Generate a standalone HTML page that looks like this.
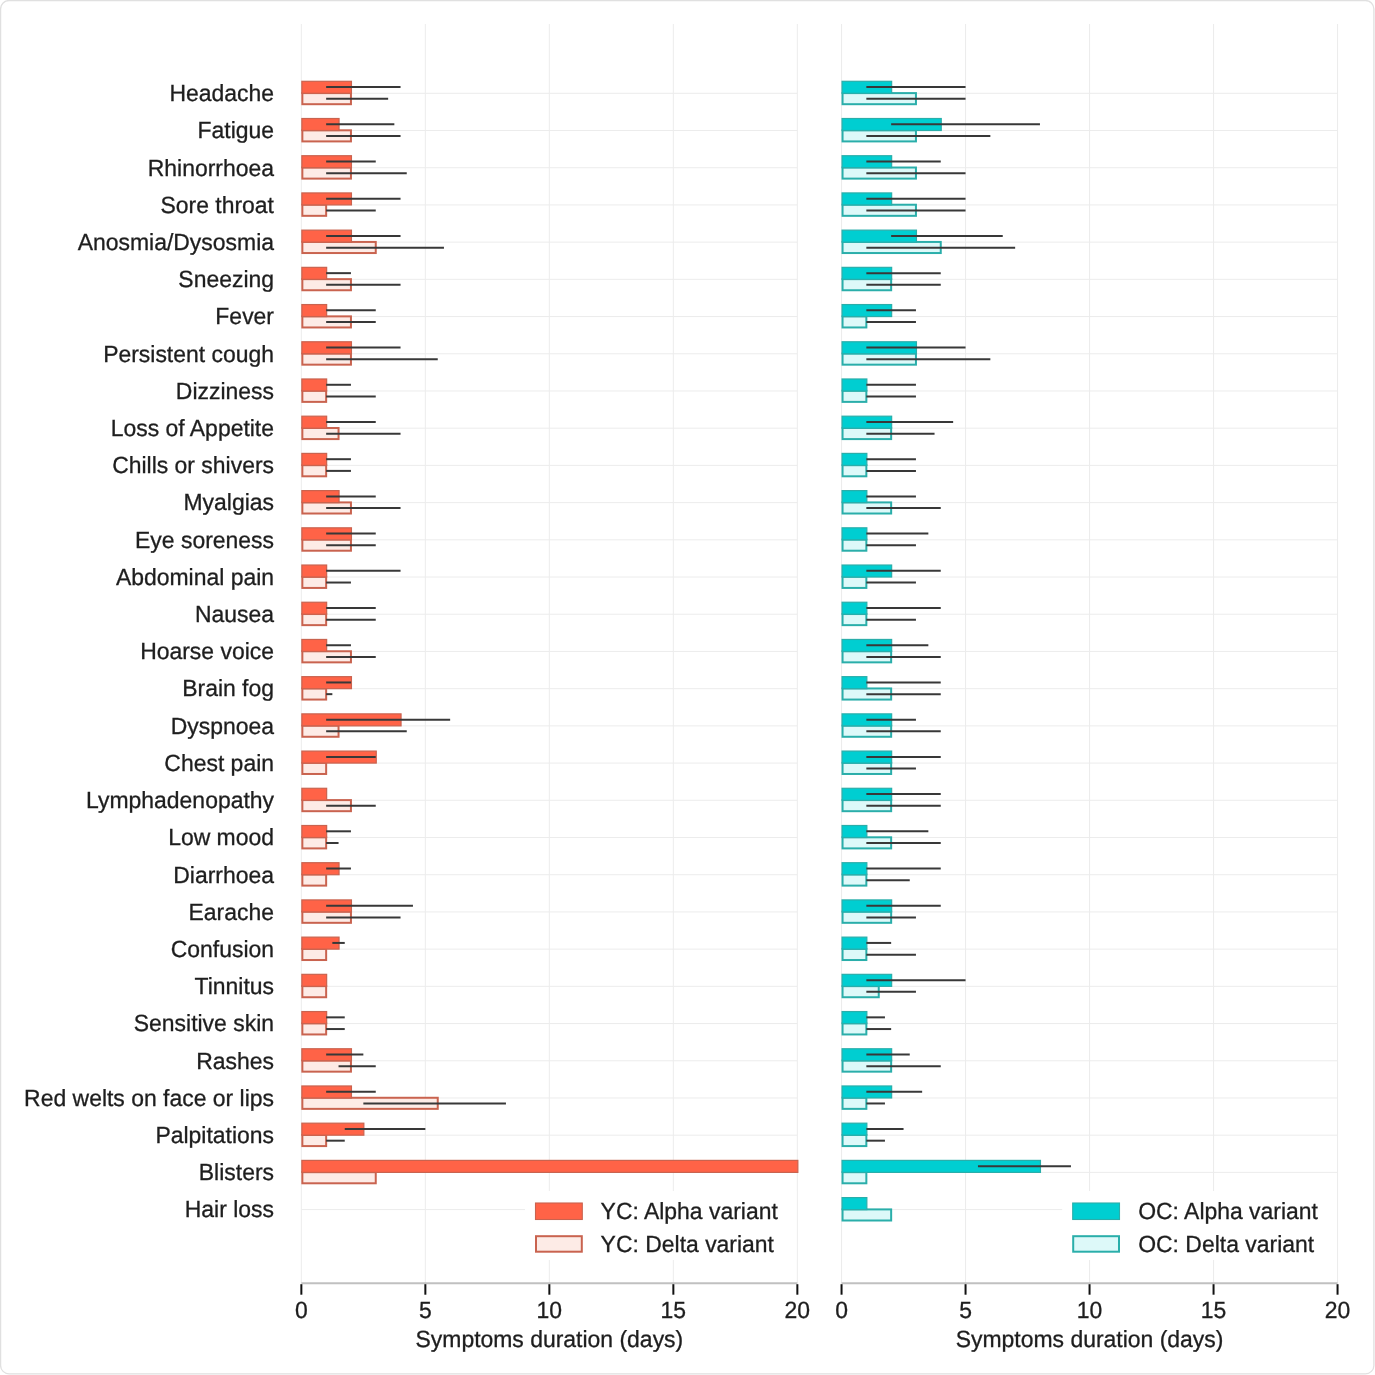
<!DOCTYPE html><html><head><meta charset="utf-8"><style>html,body{margin:0;padding:0;background:#fff;width:1375px;height:1375px;overflow:hidden}svg{display:block}text{font-family:"Liberation Sans",sans-serif;fill:#1e1e1e;stroke:#1e1e1e;stroke-width:0.3px}svg{will-change:transform}text{text-rendering:geometricPrecision}</style></head><body>
<svg width="1375" height="1375" viewBox="0 0 1375 1375">
<rect x="0" y="0" width="1375" height="1375" fill="#fff"/>
<rect x="0.6" y="0.5" width="1373.3" height="1373.4" rx="8.5" ry="8.5" fill="none" stroke="#e0e0e0" stroke-width="1.3"/>
<line x1="301.35" y1="93.30" x2="797.35" y2="93.30" stroke="#ececec" stroke-width="1"/>
<line x1="301.35" y1="130.51" x2="797.35" y2="130.51" stroke="#ececec" stroke-width="1"/>
<line x1="301.35" y1="167.72" x2="797.35" y2="167.72" stroke="#ececec" stroke-width="1"/>
<line x1="301.35" y1="204.93" x2="797.35" y2="204.93" stroke="#ececec" stroke-width="1"/>
<line x1="301.35" y1="242.14" x2="797.35" y2="242.14" stroke="#ececec" stroke-width="1"/>
<line x1="301.35" y1="279.35" x2="797.35" y2="279.35" stroke="#ececec" stroke-width="1"/>
<line x1="301.35" y1="316.56" x2="797.35" y2="316.56" stroke="#ececec" stroke-width="1"/>
<line x1="301.35" y1="353.77" x2="797.35" y2="353.77" stroke="#ececec" stroke-width="1"/>
<line x1="301.35" y1="390.98" x2="797.35" y2="390.98" stroke="#ececec" stroke-width="1"/>
<line x1="301.35" y1="428.19" x2="797.35" y2="428.19" stroke="#ececec" stroke-width="1"/>
<line x1="301.35" y1="465.40" x2="797.35" y2="465.40" stroke="#ececec" stroke-width="1"/>
<line x1="301.35" y1="502.61" x2="797.35" y2="502.61" stroke="#ececec" stroke-width="1"/>
<line x1="301.35" y1="539.82" x2="797.35" y2="539.82" stroke="#ececec" stroke-width="1"/>
<line x1="301.35" y1="577.03" x2="797.35" y2="577.03" stroke="#ececec" stroke-width="1"/>
<line x1="301.35" y1="614.24" x2="797.35" y2="614.24" stroke="#ececec" stroke-width="1"/>
<line x1="301.35" y1="651.45" x2="797.35" y2="651.45" stroke="#ececec" stroke-width="1"/>
<line x1="301.35" y1="688.66" x2="797.35" y2="688.66" stroke="#ececec" stroke-width="1"/>
<line x1="301.35" y1="725.87" x2="797.35" y2="725.87" stroke="#ececec" stroke-width="1"/>
<line x1="301.35" y1="763.08" x2="797.35" y2="763.08" stroke="#ececec" stroke-width="1"/>
<line x1="301.35" y1="800.29" x2="797.35" y2="800.29" stroke="#ececec" stroke-width="1"/>
<line x1="301.35" y1="837.50" x2="797.35" y2="837.50" stroke="#ececec" stroke-width="1"/>
<line x1="301.35" y1="874.71" x2="797.35" y2="874.71" stroke="#ececec" stroke-width="1"/>
<line x1="301.35" y1="911.92" x2="797.35" y2="911.92" stroke="#ececec" stroke-width="1"/>
<line x1="301.35" y1="949.13" x2="797.35" y2="949.13" stroke="#ececec" stroke-width="1"/>
<line x1="301.35" y1="986.34" x2="797.35" y2="986.34" stroke="#ececec" stroke-width="1"/>
<line x1="301.35" y1="1023.55" x2="797.35" y2="1023.55" stroke="#ececec" stroke-width="1"/>
<line x1="301.35" y1="1060.76" x2="797.35" y2="1060.76" stroke="#ececec" stroke-width="1"/>
<line x1="301.35" y1="1097.97" x2="797.35" y2="1097.97" stroke="#ececec" stroke-width="1"/>
<line x1="301.35" y1="1135.18" x2="797.35" y2="1135.18" stroke="#ececec" stroke-width="1"/>
<line x1="301.35" y1="1172.39" x2="797.35" y2="1172.39" stroke="#ececec" stroke-width="1"/>
<line x1="301.35" y1="1209.60" x2="525.00" y2="1209.60" stroke="#ececec" stroke-width="1"/>
<line x1="301.35" y1="24" x2="301.35" y2="1283.20" stroke="#ececec" stroke-width="1"/>
<line x1="425.35" y1="24" x2="425.35" y2="1283.20" stroke="#ececec" stroke-width="1"/>
<line x1="549.35" y1="24" x2="549.35" y2="1283.20" stroke="#ececec" stroke-width="1"/>
<line x1="673.35" y1="24" x2="673.35" y2="1283.20" stroke="#ececec" stroke-width="1"/>
<line x1="797.35" y1="24" x2="797.35" y2="1283.20" stroke="#ececec" stroke-width="1"/>
<rect x="302.35" y="93.10" width="48.60" height="11.1" fill="#fdebe6" stroke="#c9634f" stroke-width="2"/>
<rect x="301.85" y="81.30" width="49.60" height="12.0" fill="#ff6347" stroke="#c9634f" stroke-width="1.2"/>
<line x1="326.15" y1="87.10" x2="400.55" y2="87.10" stroke="#383838" stroke-width="2"/>
<line x1="326.15" y1="98.80" x2="388.15" y2="98.80" stroke="#383838" stroke-width="2"/>
<rect x="302.35" y="130.31" width="48.60" height="11.1" fill="#fdebe6" stroke="#c9634f" stroke-width="2"/>
<rect x="301.85" y="118.51" width="37.20" height="12.0" fill="#ff6347" stroke="#c9634f" stroke-width="1.2"/>
<line x1="326.15" y1="124.31" x2="394.35" y2="124.31" stroke="#383838" stroke-width="2"/>
<line x1="326.15" y1="136.01" x2="400.55" y2="136.01" stroke="#383838" stroke-width="2"/>
<rect x="302.35" y="167.52" width="48.60" height="11.1" fill="#fdebe6" stroke="#c9634f" stroke-width="2"/>
<rect x="301.85" y="155.72" width="49.60" height="12.0" fill="#ff6347" stroke="#c9634f" stroke-width="1.2"/>
<line x1="326.15" y1="161.52" x2="375.75" y2="161.52" stroke="#383838" stroke-width="2"/>
<line x1="326.15" y1="173.22" x2="406.75" y2="173.22" stroke="#383838" stroke-width="2"/>
<rect x="302.35" y="204.73" width="23.80" height="11.1" fill="#fdebe6" stroke="#c9634f" stroke-width="2"/>
<rect x="301.85" y="192.93" width="49.60" height="12.0" fill="#ff6347" stroke="#c9634f" stroke-width="1.2"/>
<line x1="326.15" y1="198.73" x2="400.55" y2="198.73" stroke="#383838" stroke-width="2"/>
<line x1="326.15" y1="210.43" x2="375.75" y2="210.43" stroke="#383838" stroke-width="2"/>
<rect x="302.35" y="241.94" width="73.40" height="11.1" fill="#fdebe6" stroke="#c9634f" stroke-width="2"/>
<rect x="301.85" y="230.14" width="49.60" height="12.0" fill="#ff6347" stroke="#c9634f" stroke-width="1.2"/>
<line x1="326.15" y1="235.94" x2="400.55" y2="235.94" stroke="#383838" stroke-width="2"/>
<line x1="326.15" y1="247.64" x2="443.95" y2="247.64" stroke="#383838" stroke-width="2"/>
<rect x="302.35" y="279.15" width="48.60" height="11.1" fill="#fdebe6" stroke="#c9634f" stroke-width="2"/>
<rect x="301.85" y="267.35" width="24.80" height="12.0" fill="#ff6347" stroke="#c9634f" stroke-width="1.2"/>
<line x1="326.15" y1="273.15" x2="350.95" y2="273.15" stroke="#383838" stroke-width="2"/>
<line x1="326.15" y1="284.85" x2="400.55" y2="284.85" stroke="#383838" stroke-width="2"/>
<rect x="302.35" y="316.36" width="48.60" height="11.1" fill="#fdebe6" stroke="#c9634f" stroke-width="2"/>
<rect x="301.85" y="304.56" width="24.80" height="12.0" fill="#ff6347" stroke="#c9634f" stroke-width="1.2"/>
<line x1="326.15" y1="310.36" x2="375.75" y2="310.36" stroke="#383838" stroke-width="2"/>
<line x1="326.15" y1="322.06" x2="375.75" y2="322.06" stroke="#383838" stroke-width="2"/>
<rect x="302.35" y="353.57" width="48.60" height="11.1" fill="#fdebe6" stroke="#c9634f" stroke-width="2"/>
<rect x="301.85" y="341.77" width="49.60" height="12.0" fill="#ff6347" stroke="#c9634f" stroke-width="1.2"/>
<line x1="326.15" y1="347.57" x2="400.55" y2="347.57" stroke="#383838" stroke-width="2"/>
<line x1="326.15" y1="359.27" x2="437.75" y2="359.27" stroke="#383838" stroke-width="2"/>
<rect x="302.35" y="390.78" width="23.80" height="11.1" fill="#fdebe6" stroke="#c9634f" stroke-width="2"/>
<rect x="301.85" y="378.98" width="24.80" height="12.0" fill="#ff6347" stroke="#c9634f" stroke-width="1.2"/>
<line x1="326.15" y1="384.78" x2="350.95" y2="384.78" stroke="#383838" stroke-width="2"/>
<line x1="326.15" y1="396.48" x2="375.75" y2="396.48" stroke="#383838" stroke-width="2"/>
<rect x="302.35" y="427.99" width="36.20" height="11.1" fill="#fdebe6" stroke="#c9634f" stroke-width="2"/>
<rect x="301.85" y="416.19" width="24.80" height="12.0" fill="#ff6347" stroke="#c9634f" stroke-width="1.2"/>
<line x1="326.15" y1="421.99" x2="375.75" y2="421.99" stroke="#383838" stroke-width="2"/>
<line x1="326.15" y1="433.69" x2="400.55" y2="433.69" stroke="#383838" stroke-width="2"/>
<rect x="302.35" y="465.20" width="23.80" height="11.1" fill="#fdebe6" stroke="#c9634f" stroke-width="2"/>
<rect x="301.85" y="453.40" width="24.80" height="12.0" fill="#ff6347" stroke="#c9634f" stroke-width="1.2"/>
<line x1="326.15" y1="459.20" x2="350.95" y2="459.20" stroke="#383838" stroke-width="2"/>
<line x1="326.15" y1="470.90" x2="350.95" y2="470.90" stroke="#383838" stroke-width="2"/>
<rect x="302.35" y="502.41" width="48.60" height="11.1" fill="#fdebe6" stroke="#c9634f" stroke-width="2"/>
<rect x="301.85" y="490.61" width="37.20" height="12.0" fill="#ff6347" stroke="#c9634f" stroke-width="1.2"/>
<line x1="326.15" y1="496.41" x2="375.75" y2="496.41" stroke="#383838" stroke-width="2"/>
<line x1="326.15" y1="508.11" x2="400.55" y2="508.11" stroke="#383838" stroke-width="2"/>
<rect x="302.35" y="539.62" width="48.60" height="11.1" fill="#fdebe6" stroke="#c9634f" stroke-width="2"/>
<rect x="301.85" y="527.82" width="49.60" height="12.0" fill="#ff6347" stroke="#c9634f" stroke-width="1.2"/>
<line x1="326.15" y1="533.62" x2="375.75" y2="533.62" stroke="#383838" stroke-width="2"/>
<line x1="326.15" y1="545.32" x2="375.75" y2="545.32" stroke="#383838" stroke-width="2"/>
<rect x="302.35" y="576.83" width="23.80" height="11.1" fill="#fdebe6" stroke="#c9634f" stroke-width="2"/>
<rect x="301.85" y="565.03" width="24.80" height="12.0" fill="#ff6347" stroke="#c9634f" stroke-width="1.2"/>
<line x1="326.15" y1="570.83" x2="400.55" y2="570.83" stroke="#383838" stroke-width="2"/>
<line x1="326.15" y1="582.53" x2="350.95" y2="582.53" stroke="#383838" stroke-width="2"/>
<rect x="302.35" y="614.04" width="23.80" height="11.1" fill="#fdebe6" stroke="#c9634f" stroke-width="2"/>
<rect x="301.85" y="602.24" width="24.80" height="12.0" fill="#ff6347" stroke="#c9634f" stroke-width="1.2"/>
<line x1="326.15" y1="608.04" x2="375.75" y2="608.04" stroke="#383838" stroke-width="2"/>
<line x1="326.15" y1="619.74" x2="375.75" y2="619.74" stroke="#383838" stroke-width="2"/>
<rect x="302.35" y="651.25" width="48.60" height="11.1" fill="#fdebe6" stroke="#c9634f" stroke-width="2"/>
<rect x="301.85" y="639.45" width="24.80" height="12.0" fill="#ff6347" stroke="#c9634f" stroke-width="1.2"/>
<line x1="326.15" y1="645.25" x2="350.95" y2="645.25" stroke="#383838" stroke-width="2"/>
<line x1="326.15" y1="656.95" x2="375.75" y2="656.95" stroke="#383838" stroke-width="2"/>
<rect x="302.35" y="688.46" width="23.80" height="11.1" fill="#fdebe6" stroke="#c9634f" stroke-width="2"/>
<rect x="301.85" y="676.66" width="49.60" height="12.0" fill="#ff6347" stroke="#c9634f" stroke-width="1.2"/>
<line x1="326.15" y1="682.46" x2="350.95" y2="682.46" stroke="#383838" stroke-width="2"/>
<line x1="326.15" y1="694.16" x2="332.35" y2="694.16" stroke="#383838" stroke-width="2"/>
<rect x="302.35" y="725.67" width="36.20" height="11.1" fill="#fdebe6" stroke="#c9634f" stroke-width="2"/>
<rect x="301.85" y="713.87" width="99.20" height="12.0" fill="#ff6347" stroke="#c9634f" stroke-width="1.2"/>
<line x1="326.15" y1="719.67" x2="450.15" y2="719.67" stroke="#383838" stroke-width="2"/>
<line x1="326.15" y1="731.37" x2="406.75" y2="731.37" stroke="#383838" stroke-width="2"/>
<rect x="302.35" y="762.88" width="23.80" height="11.1" fill="#fdebe6" stroke="#c9634f" stroke-width="2"/>
<rect x="301.85" y="751.08" width="74.40" height="12.0" fill="#ff6347" stroke="#c9634f" stroke-width="1.2"/>
<line x1="326.15" y1="756.88" x2="375.75" y2="756.88" stroke="#383838" stroke-width="2"/>
<rect x="302.35" y="800.09" width="48.60" height="11.1" fill="#fdebe6" stroke="#c9634f" stroke-width="2"/>
<rect x="301.85" y="788.29" width="24.80" height="12.0" fill="#ff6347" stroke="#c9634f" stroke-width="1.2"/>
<line x1="326.15" y1="805.79" x2="375.75" y2="805.79" stroke="#383838" stroke-width="2"/>
<rect x="302.35" y="837.30" width="23.80" height="11.1" fill="#fdebe6" stroke="#c9634f" stroke-width="2"/>
<rect x="301.85" y="825.50" width="24.80" height="12.0" fill="#ff6347" stroke="#c9634f" stroke-width="1.2"/>
<line x1="326.15" y1="831.30" x2="350.95" y2="831.30" stroke="#383838" stroke-width="2"/>
<line x1="326.15" y1="843.00" x2="338.55" y2="843.00" stroke="#383838" stroke-width="2"/>
<rect x="302.35" y="874.51" width="23.80" height="11.1" fill="#fdebe6" stroke="#c9634f" stroke-width="2"/>
<rect x="301.85" y="862.71" width="37.20" height="12.0" fill="#ff6347" stroke="#c9634f" stroke-width="1.2"/>
<line x1="326.15" y1="868.51" x2="350.95" y2="868.51" stroke="#383838" stroke-width="2"/>
<rect x="302.35" y="911.72" width="48.60" height="11.1" fill="#fdebe6" stroke="#c9634f" stroke-width="2"/>
<rect x="301.85" y="899.92" width="49.60" height="12.0" fill="#ff6347" stroke="#c9634f" stroke-width="1.2"/>
<line x1="326.15" y1="905.72" x2="412.95" y2="905.72" stroke="#383838" stroke-width="2"/>
<line x1="326.15" y1="917.42" x2="400.55" y2="917.42" stroke="#383838" stroke-width="2"/>
<rect x="302.35" y="948.93" width="23.80" height="11.1" fill="#fdebe6" stroke="#c9634f" stroke-width="2"/>
<rect x="301.85" y="937.13" width="37.20" height="12.0" fill="#ff6347" stroke="#c9634f" stroke-width="1.2"/>
<line x1="332.35" y1="942.93" x2="344.75" y2="942.93" stroke="#383838" stroke-width="2"/>
<rect x="302.35" y="986.14" width="23.80" height="11.1" fill="#fdebe6" stroke="#c9634f" stroke-width="2"/>
<rect x="301.85" y="974.34" width="24.80" height="12.0" fill="#ff6347" stroke="#c9634f" stroke-width="1.2"/>
<rect x="302.35" y="1023.35" width="23.80" height="11.1" fill="#fdebe6" stroke="#c9634f" stroke-width="2"/>
<rect x="301.85" y="1011.55" width="24.80" height="12.0" fill="#ff6347" stroke="#c9634f" stroke-width="1.2"/>
<line x1="326.15" y1="1017.35" x2="344.75" y2="1017.35" stroke="#383838" stroke-width="2"/>
<line x1="326.15" y1="1029.05" x2="344.75" y2="1029.05" stroke="#383838" stroke-width="2"/>
<rect x="302.35" y="1060.56" width="48.60" height="11.1" fill="#fdebe6" stroke="#c9634f" stroke-width="2"/>
<rect x="301.85" y="1048.76" width="49.60" height="12.0" fill="#ff6347" stroke="#c9634f" stroke-width="1.2"/>
<line x1="326.15" y1="1054.56" x2="363.35" y2="1054.56" stroke="#383838" stroke-width="2"/>
<line x1="338.55" y1="1066.26" x2="375.75" y2="1066.26" stroke="#383838" stroke-width="2"/>
<rect x="302.35" y="1097.77" width="135.40" height="11.1" fill="#fdebe6" stroke="#c9634f" stroke-width="2"/>
<rect x="301.85" y="1085.97" width="49.60" height="12.0" fill="#ff6347" stroke="#c9634f" stroke-width="1.2"/>
<line x1="326.15" y1="1091.77" x2="375.75" y2="1091.77" stroke="#383838" stroke-width="2"/>
<line x1="363.35" y1="1103.47" x2="505.95" y2="1103.47" stroke="#383838" stroke-width="2"/>
<rect x="302.35" y="1134.98" width="23.80" height="11.1" fill="#fdebe6" stroke="#c9634f" stroke-width="2"/>
<rect x="301.85" y="1123.18" width="62.00" height="12.0" fill="#ff6347" stroke="#c9634f" stroke-width="1.2"/>
<line x1="344.75" y1="1128.98" x2="425.35" y2="1128.98" stroke="#383838" stroke-width="2"/>
<line x1="326.15" y1="1140.68" x2="344.75" y2="1140.68" stroke="#383838" stroke-width="2"/>
<rect x="302.35" y="1172.19" width="73.40" height="11.1" fill="#fdebe6" stroke="#c9634f" stroke-width="2"/>
<rect x="301.85" y="1160.39" width="496.00" height="12.0" fill="#ff6347" stroke="#c9634f" stroke-width="1.2"/>
<line x1="301.35" y1="1283.20" x2="797.35" y2="1283.20" stroke="#c0c0c0" stroke-width="2"/>
<line x1="301.35" y1="1284.20" x2="301.35" y2="1294.70" stroke="#111" stroke-width="2"/>
<text transform="translate(301.35 1318.00) scale(1 1.02)" font-size="22.95" text-anchor="middle">0</text>
<line x1="425.35" y1="1284.20" x2="425.35" y2="1294.70" stroke="#111" stroke-width="2"/>
<text transform="translate(425.35 1318.00) scale(1 1.02)" font-size="22.95" text-anchor="middle">5</text>
<line x1="549.35" y1="1284.20" x2="549.35" y2="1294.70" stroke="#111" stroke-width="2"/>
<text transform="translate(549.35 1318.00) scale(1 1.02)" font-size="22.95" text-anchor="middle">10</text>
<line x1="673.35" y1="1284.20" x2="673.35" y2="1294.70" stroke="#111" stroke-width="2"/>
<text transform="translate(673.35 1318.00) scale(1 1.02)" font-size="22.95" text-anchor="middle">15</text>
<line x1="797.35" y1="1284.20" x2="797.35" y2="1294.70" stroke="#111" stroke-width="2"/>
<text transform="translate(797.35 1318.00) scale(1 1.02)" font-size="22.95" text-anchor="middle">20</text>
<text transform="translate(549.35 1346.90) scale(1 1.02)" font-size="22.95" text-anchor="middle">Symptoms duration (days)</text>
<rect x="525.00" y="1191" width="271.35" height="69" fill="#fff"/>
<rect x="535.50" y="1203" width="46.8" height="16.5" fill="#ff6347" stroke="#c9634f" stroke-width="1.1"/>
<rect x="536.00" y="1236.2" width="45.8" height="15.5" fill="#fdebe6" stroke="#c9634f" stroke-width="2"/>
<text transform="translate(600.60 1219.20) scale(1 1.02)" font-size="22.95">YC: Alpha variant</text>
<text transform="translate(600.60 1252.20) scale(1 1.02)" font-size="22.95">YC: Delta variant</text>
<line x1="841.55" y1="93.30" x2="1337.55" y2="93.30" stroke="#ececec" stroke-width="1"/>
<line x1="841.55" y1="130.51" x2="1337.55" y2="130.51" stroke="#ececec" stroke-width="1"/>
<line x1="841.55" y1="167.72" x2="1337.55" y2="167.72" stroke="#ececec" stroke-width="1"/>
<line x1="841.55" y1="204.93" x2="1337.55" y2="204.93" stroke="#ececec" stroke-width="1"/>
<line x1="841.55" y1="242.14" x2="1337.55" y2="242.14" stroke="#ececec" stroke-width="1"/>
<line x1="841.55" y1="279.35" x2="1337.55" y2="279.35" stroke="#ececec" stroke-width="1"/>
<line x1="841.55" y1="316.56" x2="1337.55" y2="316.56" stroke="#ececec" stroke-width="1"/>
<line x1="841.55" y1="353.77" x2="1337.55" y2="353.77" stroke="#ececec" stroke-width="1"/>
<line x1="841.55" y1="390.98" x2="1337.55" y2="390.98" stroke="#ececec" stroke-width="1"/>
<line x1="841.55" y1="428.19" x2="1337.55" y2="428.19" stroke="#ececec" stroke-width="1"/>
<line x1="841.55" y1="465.40" x2="1337.55" y2="465.40" stroke="#ececec" stroke-width="1"/>
<line x1="841.55" y1="502.61" x2="1337.55" y2="502.61" stroke="#ececec" stroke-width="1"/>
<line x1="841.55" y1="539.82" x2="1337.55" y2="539.82" stroke="#ececec" stroke-width="1"/>
<line x1="841.55" y1="577.03" x2="1337.55" y2="577.03" stroke="#ececec" stroke-width="1"/>
<line x1="841.55" y1="614.24" x2="1337.55" y2="614.24" stroke="#ececec" stroke-width="1"/>
<line x1="841.55" y1="651.45" x2="1337.55" y2="651.45" stroke="#ececec" stroke-width="1"/>
<line x1="841.55" y1="688.66" x2="1337.55" y2="688.66" stroke="#ececec" stroke-width="1"/>
<line x1="841.55" y1="725.87" x2="1337.55" y2="725.87" stroke="#ececec" stroke-width="1"/>
<line x1="841.55" y1="763.08" x2="1337.55" y2="763.08" stroke="#ececec" stroke-width="1"/>
<line x1="841.55" y1="800.29" x2="1337.55" y2="800.29" stroke="#ececec" stroke-width="1"/>
<line x1="841.55" y1="837.50" x2="1337.55" y2="837.50" stroke="#ececec" stroke-width="1"/>
<line x1="841.55" y1="874.71" x2="1337.55" y2="874.71" stroke="#ececec" stroke-width="1"/>
<line x1="841.55" y1="911.92" x2="1337.55" y2="911.92" stroke="#ececec" stroke-width="1"/>
<line x1="841.55" y1="949.13" x2="1337.55" y2="949.13" stroke="#ececec" stroke-width="1"/>
<line x1="841.55" y1="986.34" x2="1337.55" y2="986.34" stroke="#ececec" stroke-width="1"/>
<line x1="841.55" y1="1023.55" x2="1337.55" y2="1023.55" stroke="#ececec" stroke-width="1"/>
<line x1="841.55" y1="1060.76" x2="1337.55" y2="1060.76" stroke="#ececec" stroke-width="1"/>
<line x1="841.55" y1="1097.97" x2="1337.55" y2="1097.97" stroke="#ececec" stroke-width="1"/>
<line x1="841.55" y1="1135.18" x2="1337.55" y2="1135.18" stroke="#ececec" stroke-width="1"/>
<line x1="841.55" y1="1172.39" x2="1337.55" y2="1172.39" stroke="#ececec" stroke-width="1"/>
<line x1="841.55" y1="1209.60" x2="1064.40" y2="1209.60" stroke="#ececec" stroke-width="1"/>
<line x1="841.55" y1="24" x2="841.55" y2="1283.20" stroke="#ececec" stroke-width="1"/>
<line x1="965.55" y1="24" x2="965.55" y2="1283.20" stroke="#ececec" stroke-width="1"/>
<line x1="1089.55" y1="24" x2="1089.55" y2="1283.20" stroke="#ececec" stroke-width="1"/>
<line x1="1213.55" y1="24" x2="1213.55" y2="1283.20" stroke="#ececec" stroke-width="1"/>
<line x1="1337.55" y1="24" x2="1337.55" y2="1283.20" stroke="#ececec" stroke-width="1"/>
<rect x="842.55" y="93.10" width="73.40" height="11.1" fill="#ddf9f9" stroke="#2aaeaa" stroke-width="2"/>
<rect x="842.05" y="81.30" width="49.60" height="12.0" fill="#00ced1" stroke="#2aaeaa" stroke-width="1.2"/>
<line x1="866.35" y1="87.10" x2="965.55" y2="87.10" stroke="#383838" stroke-width="2"/>
<line x1="866.35" y1="98.80" x2="965.55" y2="98.80" stroke="#383838" stroke-width="2"/>
<rect x="842.55" y="130.31" width="73.40" height="11.1" fill="#ddf9f9" stroke="#2aaeaa" stroke-width="2"/>
<rect x="842.05" y="118.51" width="99.20" height="12.0" fill="#00ced1" stroke="#2aaeaa" stroke-width="1.2"/>
<line x1="891.15" y1="124.31" x2="1039.95" y2="124.31" stroke="#383838" stroke-width="2"/>
<line x1="866.35" y1="136.01" x2="990.35" y2="136.01" stroke="#383838" stroke-width="2"/>
<rect x="842.55" y="167.52" width="73.40" height="11.1" fill="#ddf9f9" stroke="#2aaeaa" stroke-width="2"/>
<rect x="842.05" y="155.72" width="49.60" height="12.0" fill="#00ced1" stroke="#2aaeaa" stroke-width="1.2"/>
<line x1="866.35" y1="161.52" x2="940.75" y2="161.52" stroke="#383838" stroke-width="2"/>
<line x1="866.35" y1="173.22" x2="965.55" y2="173.22" stroke="#383838" stroke-width="2"/>
<rect x="842.55" y="204.73" width="73.40" height="11.1" fill="#ddf9f9" stroke="#2aaeaa" stroke-width="2"/>
<rect x="842.05" y="192.93" width="49.60" height="12.0" fill="#00ced1" stroke="#2aaeaa" stroke-width="1.2"/>
<line x1="866.35" y1="198.73" x2="965.55" y2="198.73" stroke="#383838" stroke-width="2"/>
<line x1="866.35" y1="210.43" x2="965.55" y2="210.43" stroke="#383838" stroke-width="2"/>
<rect x="842.55" y="241.94" width="98.20" height="11.1" fill="#ddf9f9" stroke="#2aaeaa" stroke-width="2"/>
<rect x="842.05" y="230.14" width="74.40" height="12.0" fill="#00ced1" stroke="#2aaeaa" stroke-width="1.2"/>
<line x1="891.15" y1="235.94" x2="1002.75" y2="235.94" stroke="#383838" stroke-width="2"/>
<line x1="866.35" y1="247.64" x2="1015.15" y2="247.64" stroke="#383838" stroke-width="2"/>
<rect x="842.55" y="279.15" width="48.60" height="11.1" fill="#ddf9f9" stroke="#2aaeaa" stroke-width="2"/>
<rect x="842.05" y="267.35" width="49.60" height="12.0" fill="#00ced1" stroke="#2aaeaa" stroke-width="1.2"/>
<line x1="866.35" y1="273.15" x2="940.75" y2="273.15" stroke="#383838" stroke-width="2"/>
<line x1="866.35" y1="284.85" x2="940.75" y2="284.85" stroke="#383838" stroke-width="2"/>
<rect x="842.55" y="316.36" width="23.80" height="11.1" fill="#ddf9f9" stroke="#2aaeaa" stroke-width="2"/>
<rect x="842.05" y="304.56" width="49.60" height="12.0" fill="#00ced1" stroke="#2aaeaa" stroke-width="1.2"/>
<line x1="866.35" y1="310.36" x2="915.95" y2="310.36" stroke="#383838" stroke-width="2"/>
<line x1="866.35" y1="322.06" x2="915.95" y2="322.06" stroke="#383838" stroke-width="2"/>
<rect x="842.55" y="353.57" width="73.40" height="11.1" fill="#ddf9f9" stroke="#2aaeaa" stroke-width="2"/>
<rect x="842.05" y="341.77" width="74.40" height="12.0" fill="#00ced1" stroke="#2aaeaa" stroke-width="1.2"/>
<line x1="866.35" y1="347.57" x2="965.55" y2="347.57" stroke="#383838" stroke-width="2"/>
<line x1="866.35" y1="359.27" x2="990.35" y2="359.27" stroke="#383838" stroke-width="2"/>
<rect x="842.55" y="390.78" width="23.80" height="11.1" fill="#ddf9f9" stroke="#2aaeaa" stroke-width="2"/>
<rect x="842.05" y="378.98" width="24.80" height="12.0" fill="#00ced1" stroke="#2aaeaa" stroke-width="1.2"/>
<line x1="866.35" y1="384.78" x2="915.95" y2="384.78" stroke="#383838" stroke-width="2"/>
<line x1="866.35" y1="396.48" x2="915.95" y2="396.48" stroke="#383838" stroke-width="2"/>
<rect x="842.55" y="427.99" width="48.60" height="11.1" fill="#ddf9f9" stroke="#2aaeaa" stroke-width="2"/>
<rect x="842.05" y="416.19" width="49.60" height="12.0" fill="#00ced1" stroke="#2aaeaa" stroke-width="1.2"/>
<line x1="866.35" y1="421.99" x2="953.15" y2="421.99" stroke="#383838" stroke-width="2"/>
<line x1="866.35" y1="433.69" x2="934.55" y2="433.69" stroke="#383838" stroke-width="2"/>
<rect x="842.55" y="465.20" width="23.80" height="11.1" fill="#ddf9f9" stroke="#2aaeaa" stroke-width="2"/>
<rect x="842.05" y="453.40" width="24.80" height="12.0" fill="#00ced1" stroke="#2aaeaa" stroke-width="1.2"/>
<line x1="866.35" y1="459.20" x2="915.95" y2="459.20" stroke="#383838" stroke-width="2"/>
<line x1="866.35" y1="470.90" x2="915.95" y2="470.90" stroke="#383838" stroke-width="2"/>
<rect x="842.55" y="502.41" width="48.60" height="11.1" fill="#ddf9f9" stroke="#2aaeaa" stroke-width="2"/>
<rect x="842.05" y="490.61" width="24.80" height="12.0" fill="#00ced1" stroke="#2aaeaa" stroke-width="1.2"/>
<line x1="866.35" y1="496.41" x2="915.95" y2="496.41" stroke="#383838" stroke-width="2"/>
<line x1="866.35" y1="508.11" x2="940.75" y2="508.11" stroke="#383838" stroke-width="2"/>
<rect x="842.55" y="539.62" width="23.80" height="11.1" fill="#ddf9f9" stroke="#2aaeaa" stroke-width="2"/>
<rect x="842.05" y="527.82" width="24.80" height="12.0" fill="#00ced1" stroke="#2aaeaa" stroke-width="1.2"/>
<line x1="866.35" y1="533.62" x2="928.35" y2="533.62" stroke="#383838" stroke-width="2"/>
<line x1="866.35" y1="545.32" x2="915.95" y2="545.32" stroke="#383838" stroke-width="2"/>
<rect x="842.55" y="576.83" width="23.80" height="11.1" fill="#ddf9f9" stroke="#2aaeaa" stroke-width="2"/>
<rect x="842.05" y="565.03" width="49.60" height="12.0" fill="#00ced1" stroke="#2aaeaa" stroke-width="1.2"/>
<line x1="866.35" y1="570.83" x2="940.75" y2="570.83" stroke="#383838" stroke-width="2"/>
<line x1="866.35" y1="582.53" x2="915.95" y2="582.53" stroke="#383838" stroke-width="2"/>
<rect x="842.55" y="614.04" width="23.80" height="11.1" fill="#ddf9f9" stroke="#2aaeaa" stroke-width="2"/>
<rect x="842.05" y="602.24" width="24.80" height="12.0" fill="#00ced1" stroke="#2aaeaa" stroke-width="1.2"/>
<line x1="866.35" y1="608.04" x2="940.75" y2="608.04" stroke="#383838" stroke-width="2"/>
<line x1="866.35" y1="619.74" x2="915.95" y2="619.74" stroke="#383838" stroke-width="2"/>
<rect x="842.55" y="651.25" width="48.60" height="11.1" fill="#ddf9f9" stroke="#2aaeaa" stroke-width="2"/>
<rect x="842.05" y="639.45" width="49.60" height="12.0" fill="#00ced1" stroke="#2aaeaa" stroke-width="1.2"/>
<line x1="866.35" y1="645.25" x2="928.35" y2="645.25" stroke="#383838" stroke-width="2"/>
<line x1="866.35" y1="656.95" x2="940.75" y2="656.95" stroke="#383838" stroke-width="2"/>
<rect x="842.55" y="688.46" width="48.60" height="11.1" fill="#ddf9f9" stroke="#2aaeaa" stroke-width="2"/>
<rect x="842.05" y="676.66" width="24.80" height="12.0" fill="#00ced1" stroke="#2aaeaa" stroke-width="1.2"/>
<line x1="866.35" y1="682.46" x2="940.75" y2="682.46" stroke="#383838" stroke-width="2"/>
<line x1="866.35" y1="694.16" x2="940.75" y2="694.16" stroke="#383838" stroke-width="2"/>
<rect x="842.55" y="725.67" width="48.60" height="11.1" fill="#ddf9f9" stroke="#2aaeaa" stroke-width="2"/>
<rect x="842.05" y="713.87" width="49.60" height="12.0" fill="#00ced1" stroke="#2aaeaa" stroke-width="1.2"/>
<line x1="866.35" y1="719.67" x2="915.95" y2="719.67" stroke="#383838" stroke-width="2"/>
<line x1="866.35" y1="731.37" x2="940.75" y2="731.37" stroke="#383838" stroke-width="2"/>
<rect x="842.55" y="762.88" width="48.60" height="11.1" fill="#ddf9f9" stroke="#2aaeaa" stroke-width="2"/>
<rect x="842.05" y="751.08" width="49.60" height="12.0" fill="#00ced1" stroke="#2aaeaa" stroke-width="1.2"/>
<line x1="866.35" y1="756.88" x2="940.75" y2="756.88" stroke="#383838" stroke-width="2"/>
<line x1="866.35" y1="768.58" x2="915.95" y2="768.58" stroke="#383838" stroke-width="2"/>
<rect x="842.55" y="800.09" width="48.60" height="11.1" fill="#ddf9f9" stroke="#2aaeaa" stroke-width="2"/>
<rect x="842.05" y="788.29" width="49.60" height="12.0" fill="#00ced1" stroke="#2aaeaa" stroke-width="1.2"/>
<line x1="866.35" y1="794.09" x2="940.75" y2="794.09" stroke="#383838" stroke-width="2"/>
<line x1="866.35" y1="805.79" x2="940.75" y2="805.79" stroke="#383838" stroke-width="2"/>
<rect x="842.55" y="837.30" width="48.60" height="11.1" fill="#ddf9f9" stroke="#2aaeaa" stroke-width="2"/>
<rect x="842.05" y="825.50" width="24.80" height="12.0" fill="#00ced1" stroke="#2aaeaa" stroke-width="1.2"/>
<line x1="866.35" y1="831.30" x2="928.35" y2="831.30" stroke="#383838" stroke-width="2"/>
<line x1="866.35" y1="843.00" x2="940.75" y2="843.00" stroke="#383838" stroke-width="2"/>
<rect x="842.55" y="874.51" width="23.80" height="11.1" fill="#ddf9f9" stroke="#2aaeaa" stroke-width="2"/>
<rect x="842.05" y="862.71" width="24.80" height="12.0" fill="#00ced1" stroke="#2aaeaa" stroke-width="1.2"/>
<line x1="866.35" y1="868.51" x2="940.75" y2="868.51" stroke="#383838" stroke-width="2"/>
<line x1="866.35" y1="880.21" x2="909.75" y2="880.21" stroke="#383838" stroke-width="2"/>
<rect x="842.55" y="911.72" width="48.60" height="11.1" fill="#ddf9f9" stroke="#2aaeaa" stroke-width="2"/>
<rect x="842.05" y="899.92" width="49.60" height="12.0" fill="#00ced1" stroke="#2aaeaa" stroke-width="1.2"/>
<line x1="866.35" y1="905.72" x2="940.75" y2="905.72" stroke="#383838" stroke-width="2"/>
<line x1="866.35" y1="917.42" x2="915.95" y2="917.42" stroke="#383838" stroke-width="2"/>
<rect x="842.55" y="948.93" width="23.80" height="11.1" fill="#ddf9f9" stroke="#2aaeaa" stroke-width="2"/>
<rect x="842.05" y="937.13" width="24.80" height="12.0" fill="#00ced1" stroke="#2aaeaa" stroke-width="1.2"/>
<line x1="866.35" y1="942.93" x2="891.15" y2="942.93" stroke="#383838" stroke-width="2"/>
<line x1="866.35" y1="954.63" x2="915.95" y2="954.63" stroke="#383838" stroke-width="2"/>
<rect x="842.55" y="986.14" width="36.20" height="11.1" fill="#ddf9f9" stroke="#2aaeaa" stroke-width="2"/>
<rect x="842.05" y="974.34" width="49.60" height="12.0" fill="#00ced1" stroke="#2aaeaa" stroke-width="1.2"/>
<line x1="866.35" y1="980.14" x2="965.55" y2="980.14" stroke="#383838" stroke-width="2"/>
<line x1="866.35" y1="991.84" x2="915.95" y2="991.84" stroke="#383838" stroke-width="2"/>
<rect x="842.55" y="1023.35" width="23.80" height="11.1" fill="#ddf9f9" stroke="#2aaeaa" stroke-width="2"/>
<rect x="842.05" y="1011.55" width="24.80" height="12.0" fill="#00ced1" stroke="#2aaeaa" stroke-width="1.2"/>
<line x1="866.35" y1="1017.35" x2="884.95" y2="1017.35" stroke="#383838" stroke-width="2"/>
<line x1="866.35" y1="1029.05" x2="891.15" y2="1029.05" stroke="#383838" stroke-width="2"/>
<rect x="842.55" y="1060.56" width="48.60" height="11.1" fill="#ddf9f9" stroke="#2aaeaa" stroke-width="2"/>
<rect x="842.05" y="1048.76" width="49.60" height="12.0" fill="#00ced1" stroke="#2aaeaa" stroke-width="1.2"/>
<line x1="866.35" y1="1054.56" x2="909.75" y2="1054.56" stroke="#383838" stroke-width="2"/>
<line x1="866.35" y1="1066.26" x2="940.75" y2="1066.26" stroke="#383838" stroke-width="2"/>
<rect x="842.55" y="1097.77" width="23.80" height="11.1" fill="#ddf9f9" stroke="#2aaeaa" stroke-width="2"/>
<rect x="842.05" y="1085.97" width="49.60" height="12.0" fill="#00ced1" stroke="#2aaeaa" stroke-width="1.2"/>
<line x1="866.35" y1="1091.77" x2="922.15" y2="1091.77" stroke="#383838" stroke-width="2"/>
<line x1="866.35" y1="1103.47" x2="884.95" y2="1103.47" stroke="#383838" stroke-width="2"/>
<rect x="842.55" y="1134.98" width="23.80" height="11.1" fill="#ddf9f9" stroke="#2aaeaa" stroke-width="2"/>
<rect x="842.05" y="1123.18" width="24.80" height="12.0" fill="#00ced1" stroke="#2aaeaa" stroke-width="1.2"/>
<line x1="866.35" y1="1128.98" x2="903.55" y2="1128.98" stroke="#383838" stroke-width="2"/>
<line x1="866.35" y1="1140.68" x2="884.95" y2="1140.68" stroke="#383838" stroke-width="2"/>
<rect x="842.55" y="1172.19" width="23.80" height="11.1" fill="#ddf9f9" stroke="#2aaeaa" stroke-width="2"/>
<rect x="842.05" y="1160.39" width="198.40" height="12.0" fill="#00ced1" stroke="#2aaeaa" stroke-width="1.2"/>
<line x1="977.95" y1="1166.19" x2="1070.95" y2="1166.19" stroke="#383838" stroke-width="2"/>
<rect x="842.55" y="1209.40" width="48.60" height="11.1" fill="#ddf9f9" stroke="#2aaeaa" stroke-width="2"/>
<rect x="842.05" y="1197.60" width="24.80" height="12.0" fill="#00ced1" stroke="#2aaeaa" stroke-width="1.2"/>
<line x1="841.55" y1="1283.20" x2="1337.55" y2="1283.20" stroke="#c0c0c0" stroke-width="2"/>
<line x1="841.55" y1="1284.20" x2="841.55" y2="1294.70" stroke="#111" stroke-width="2"/>
<text transform="translate(841.55 1318.00) scale(1 1.02)" font-size="22.95" text-anchor="middle">0</text>
<line x1="965.55" y1="1284.20" x2="965.55" y2="1294.70" stroke="#111" stroke-width="2"/>
<text transform="translate(965.55 1318.00) scale(1 1.02)" font-size="22.95" text-anchor="middle">5</text>
<line x1="1089.55" y1="1284.20" x2="1089.55" y2="1294.70" stroke="#111" stroke-width="2"/>
<text transform="translate(1089.55 1318.00) scale(1 1.02)" font-size="22.95" text-anchor="middle">10</text>
<line x1="1213.55" y1="1284.20" x2="1213.55" y2="1294.70" stroke="#111" stroke-width="2"/>
<text transform="translate(1213.55 1318.00) scale(1 1.02)" font-size="22.95" text-anchor="middle">15</text>
<line x1="1337.55" y1="1284.20" x2="1337.55" y2="1294.70" stroke="#111" stroke-width="2"/>
<text transform="translate(1337.55 1318.00) scale(1 1.02)" font-size="22.95" text-anchor="middle">20</text>
<text transform="translate(1089.55 1346.90) scale(1 1.02)" font-size="22.95" text-anchor="middle">Symptoms duration (days)</text>
<rect x="1062.20" y="1191" width="274.35" height="69" fill="#fff"/>
<rect x="1072.70" y="1203" width="46.8" height="16.5" fill="#00ced1" stroke="#2aaeaa" stroke-width="1.1"/>
<rect x="1073.20" y="1236.2" width="45.8" height="15.5" fill="#ddf9f9" stroke="#2aaeaa" stroke-width="2"/>
<text transform="translate(1138.20 1219.20) scale(1 1.02)" font-size="22.95">OC: Alpha variant</text>
<text transform="translate(1138.20 1252.20) scale(1 1.02)" font-size="22.95">OC: Delta variant</text>
<text transform="translate(274.00 101.10) scale(1 1.02)" font-size="22.95" text-anchor="end">Headache</text>
<text transform="translate(274.00 138.31) scale(1 1.02)" font-size="22.95" text-anchor="end">Fatigue</text>
<text transform="translate(274.00 175.52) scale(1 1.02)" font-size="22.95" text-anchor="end">Rhinorrhoea</text>
<text transform="translate(274.00 212.73) scale(1 1.02)" font-size="22.95" text-anchor="end">Sore throat</text>
<text transform="translate(274.00 249.94) scale(1 1.02)" font-size="22.95" text-anchor="end">Anosmia/Dysosmia</text>
<text transform="translate(274.00 287.15) scale(1 1.02)" font-size="22.95" text-anchor="end">Sneezing</text>
<text transform="translate(274.00 324.36) scale(1 1.02)" font-size="22.95" text-anchor="end">Fever</text>
<text transform="translate(274.00 361.57) scale(1 1.02)" font-size="22.95" text-anchor="end">Persistent cough</text>
<text transform="translate(274.00 398.78) scale(1 1.02)" font-size="22.95" text-anchor="end">Dizziness</text>
<text transform="translate(274.00 435.99) scale(1 1.02)" font-size="22.95" text-anchor="end">Loss of Appetite</text>
<text transform="translate(274.00 473.20) scale(1 1.02)" font-size="22.95" text-anchor="end">Chills or shivers</text>
<text transform="translate(274.00 510.41) scale(1 1.02)" font-size="22.95" text-anchor="end">Myalgias</text>
<text transform="translate(274.00 547.62) scale(1 1.02)" font-size="22.95" text-anchor="end">Eye soreness</text>
<text transform="translate(274.00 584.83) scale(1 1.02)" font-size="22.95" text-anchor="end">Abdominal pain</text>
<text transform="translate(274.00 622.04) scale(1 1.02)" font-size="22.95" text-anchor="end">Nausea</text>
<text transform="translate(274.00 659.25) scale(1 1.02)" font-size="22.95" text-anchor="end">Hoarse voice</text>
<text transform="translate(274.00 696.46) scale(1 1.02)" font-size="22.95" text-anchor="end">Brain fog</text>
<text transform="translate(274.00 733.67) scale(1 1.02)" font-size="22.95" text-anchor="end">Dyspnoea</text>
<text transform="translate(274.00 770.88) scale(1 1.02)" font-size="22.95" text-anchor="end">Chest pain</text>
<text transform="translate(274.00 808.09) scale(1 1.02)" font-size="22.95" text-anchor="end">Lymphadenopathy</text>
<text transform="translate(274.00 845.30) scale(1 1.02)" font-size="22.95" text-anchor="end">Low mood</text>
<text transform="translate(274.00 882.51) scale(1 1.02)" font-size="22.95" text-anchor="end">Diarrhoea</text>
<text transform="translate(274.00 919.72) scale(1 1.02)" font-size="22.95" text-anchor="end">Earache</text>
<text transform="translate(274.00 956.93) scale(1 1.02)" font-size="22.95" text-anchor="end">Confusion</text>
<text transform="translate(274.00 994.14) scale(1 1.02)" font-size="22.95" text-anchor="end">Tinnitus</text>
<text transform="translate(274.00 1031.35) scale(1 1.02)" font-size="22.95" text-anchor="end">Sensitive skin</text>
<text transform="translate(274.00 1068.56) scale(1 1.02)" font-size="22.95" text-anchor="end">Rashes</text>
<text transform="translate(274.00 1105.77) scale(1 1.02)" font-size="22.95" text-anchor="end">Red welts on face or lips</text>
<text transform="translate(274.00 1142.98) scale(1 1.02)" font-size="22.95" text-anchor="end">Palpitations</text>
<text transform="translate(274.00 1180.19) scale(1 1.02)" font-size="22.95" text-anchor="end">Blisters</text>
<text transform="translate(274.00 1217.40) scale(1 1.02)" font-size="22.95" text-anchor="end">Hair loss</text>
</svg></body></html>
